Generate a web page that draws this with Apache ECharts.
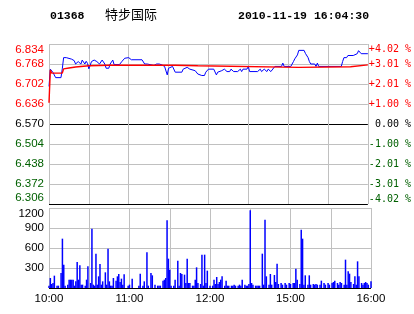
<!DOCTYPE html>
<html><head><meta charset="utf-8">
<script src="https://cdn.jsdelivr.net/npm/echarts@6/dist/echarts.min.js"></script>
<style>html,body{margin:0;padding:0;background:#fff}#c{width:414px;height:314px}</style>
</head><body><div id="c"></div>
<script>
// ---- data (minute index from 10:00; 150 = 12:30/14:30 break; 240 = 16:00) ----
const stockCode = '01368';
const stockName = '特步国际';
const stamp = '2010-11-19 16:04:30';
const preClose = 6.570;
const xTickLabels = ['10:00', '', '11:00', '', '12:00', '', '15:00', '', '16:00'];
const pricePoints = [[0,6.694],[1,6.751],[2,6.750],[3,6.740],[4,6.737],[5,6.723],[9,6.723],[10,6.752],[11,6.789],[13,6.789],[14,6.784],[17,6.784],[18,6.789],[19,6.779],[20,6.768],[22,6.776],[24,6.768],[25,6.781],[27,6.768],[28,6.777],[29,6.770],[30,6.752],[31,6.752],[32,6.776],[34,6.781],[36,6.776],[38,6.768],[40,6.781],[42,6.768],[43,6.754],[45,6.754],[46,6.768],[48,6.781],[49,6.766],[53,6.766],[55,6.777],[57,6.787],[60,6.789],[62,6.782],[70,6.782],[72,6.768],[74,6.768],[75,6.763],[79,6.763],[81,6.768],[83,6.768],[85,6.765],[87,6.760],[88,6.755],[89,6.732],[90,6.754],[93,6.760],[94,6.760],[95,6.741],[100,6.741],[101,6.751],[102,6.751],[104,6.757],[106,6.751],[110,6.746],[112,6.735],[115,6.730],[117,6.730],[118,6.741],[120,6.751],[124,6.751],[125,6.745],[126,6.732],[127,6.741],[130,6.746],[132,6.751],[134,6.743],[136,6.743],[137,6.751],[139,6.743],[142,6.743],[144,6.751],[145,6.743],[146,6.751],[149,6.751],[150,6.760],[151,6.743],[157,6.743],[159,6.751],[160,6.743],[162,6.751],[164,6.743],[165,6.751],[167,6.743],[168,6.743],[170,6.760],[175,6.760],[176,6.771],[177,6.760],[182,6.760],[184,6.776],[185,6.785],[187,6.798],[188,6.813],[192,6.813],[193,6.803],[195,6.789],[196,6.776],[197,6.768],[200,6.768],[201,6.760],[202,6.771],[203,6.760],[220,6.760],[221,6.776],[222,6.789],[224,6.789],[225,6.796],[229,6.796],[232,6.802],[233,6.812],[235,6.802],[240,6.802]];
const avgPoints = [[0,6.640],[1,6.748],[2,6.738],[10,6.738],[11,6.752],[15,6.755],[20,6.758],[30,6.762],[45,6.764],[95,6.764],[96,6.762],[112,6.762],[113,6.757],[188,6.757],[189,6.759],[227,6.759],[228,6.765],[240,6.765]];
const volTimes = [0,1,2,3,4,6,7,9,10,11,12,14,15,16,17,18,19,20,21,22,23,24,25,27,28,29,31,32,33,34,35,36,37,38,39,40,42,43,44,45,46,47,48,50,51,52,53,54,55,56,59,60,62,67,68,70,71,73,74,76,77,79,81,82,83,85,86,87,88,89,90,91,93,94,96,97,98,99,101,102,103,104,105,107,108,109,110,111,113,114,115,116,117,118,120,122,123,124,125,126,127,128,129,131,132,133,134,136,137,138,139,141,142,143,144,146,147,148,149,150,151,152,154,155,156,157,159,160,161,162,164,165,166,168,169,170,171,173,174,176,177,179,180,182,183,184,185,187,188,189,190,191,193,194,195,197,198,199,200,202,203,205,206,208,209,211,212,213,215,216,217,218,220,221,222,223,224,225,227,228,229,230,231,233,234,235,236,237,238,240];
const volValues = [35,150,60,75,185,35,35,225,740,350,35,50,125,125,125,125,35,100,390,125,340,50,50,35,125,325,75,890,50,35,515,50,175,360,50,100,235,50,590,100,35,35,150,110,175,210,90,140,50,205,35,50,140,35,215,35,100,535,35,225,190,50,35,35,35,110,125,150,1015,440,275,35,35,125,410,35,225,210,200,75,440,75,75,35,35,125,310,75,60,500,35,500,75,260,35,35,125,60,165,60,90,125,175,35,110,35,35,35,35,50,35,35,50,35,125,50,35,35,60,1165,75,50,35,35,35,35,515,50,1025,175,50,210,50,195,90,365,60,75,50,75,50,75,60,75,75,290,125,60,875,740,50,190,50,190,50,60,50,60,50,50,110,75,50,75,50,75,90,110,75,50,90,75,50,425,50,250,215,90,60,175,50,400,175,75,50,75,90,75,50,100];

// ---- chart ----
const RED = '#ff0000', GREEN = '#006000', GRAY = '#c0c0c0', BLACK = '#000000';
const toOffset = p => (p - preClose) * 1000; // price axis in 0.001 units relative to previous close
const sideColor = v => { v = Number(v); return v > 0.001 ? RED : (v < -0.001 ? GREEN : BLACK); };

const chart = echarts.init(document.getElementById('c'), null, {renderer: 'canvas'});
const hdr = {fontFamily: 'Liberation Mono', fontWeight: 'bold', fontSize: 11.5, color: '#000'};
chart.setOption({
  animation: false,
  backgroundColor: '#fff',
  title: [
    {text: stockCode, left: 50, top: 10, padding: 0, textStyle: hdr},
    {text: stockName, left: 105, top: 8, padding: 0, textStyle: {fontFamily: 'Noto Sans CJK SC', fontWeight: 'normal', fontSize: 13, color: '#000'}},
    {text: stamp, left: 238, top: 10, padding: 0, textStyle: hdr}
  ],
  grid: [
    {left: 49, right: 43, top: 44, height: 160},
    {left: 49, right: 43, top: 208, height: 80}
  ],
  xAxis: [
    {type: 'value', gridIndex: 0, min: 0, max: 240, interval: 30,
      axisLine: {show: false}, axisTick: {show: false}, axisLabel: {show: false},
      splitLine: {show: true, lineStyle: {color: GRAY, width: 1}}},
    {type: 'value', gridIndex: 1, min: 0, max: 240, interval: 30,
      axisLine: {show: false}, axisTick: {show: false},
      axisLabel: {show: true, margin: 5, fontFamily: 'Liberation Sans', fontSize: 11.5, color: '#000',
        formatter: v => xTickLabels[Math.round(v / 30)] || ''},
      splitLine: {show: true, lineStyle: {color: GRAY, width: 1}}}
  ],
  yAxis: [
    {type: 'value', gridIndex: 0, min: -264, max: 264, interval: 66, position: 'left',
      axisLine: {show: false}, axisTick: {show: false},
      axisLabel: {margin: 5, fontFamily: 'Liberation Sans', fontSize: 11.5,
        verticalAlignMaxLabel: 'top', verticalAlignMinLabel: 'bottom',
        color: sideColor,
        formatter: v => (preClose + v / 1000).toFixed(3)},
      splitLine: {show: true, lineStyle: {color: [BLACK, GRAY, GRAY, GRAY, BLACK, GRAY, GRAY, GRAY, GRAY], width: 1}}},
    {type: 'value', gridIndex: 0, min: -264, max: 264, interval: 66, position: 'right',
      axisLine: {show: false}, axisTick: {show: false}, splitLine: {show: false},
      axisLabel: {margin: 1, align: 'left', fontFamily: 'DejaVu Sans Mono', fontSize: 10,
        verticalAlignMaxLabel: 'top', verticalAlignMinLabel: 'bottom',
        color: sideColor,
        formatter: v => {
          const pct = v / 1000 / preClose * 100;
          if (Math.abs(v) < 0.001) return ' 0.00 %';
          return (pct > 0 ? '+' : '') + pct.toFixed(2) + ' %';
        }}},
    {type: 'value', gridIndex: 1, min: 0, max: 1200, interval: 300,
      axisLine: {show: false}, axisTick: {show: false},
      axisLabel: {margin: 5, fontFamily: 'Liberation Sans', fontSize: 11.5, color: '#000',
        showMinLabel: false, verticalAlignMaxLabel: 'top',
        formatter: v => String(v)},
      splitLine: {show: true, lineStyle: {color: [BLACK, GRAY, GRAY, GRAY, GRAY], width: 1}}}
  ],
  series: [
    {type: 'line', xAxisIndex: 0, yAxisIndex: 0, symbol: 'none', z: 3,
      lineStyle: {color: '#0000ff', width: 1},
      data: pricePoints.map(d => [d[0], toOffset(d[1])])},
    {type: 'line', xAxisIndex: 0, yAxisIndex: 0, symbol: 'none', z: 4,
      lineStyle: {color: RED, width: 1.4},
      data: avgPoints.map(d => [d[0], toOffset(d[1])])},
    {type: 'bar', xAxisIndex: 1, yAxisIndex: 2, barWidth: 1.5,
      itemStyle: {color: '#0000ff'},
      data: volTimes.map((t, i) => [t, volValues[i]])}
  ]
});
</script></body></html>
